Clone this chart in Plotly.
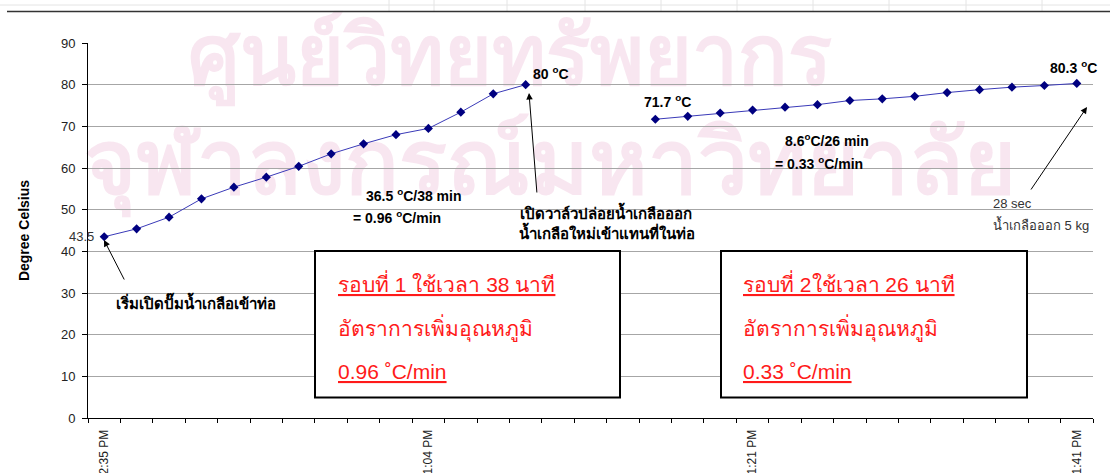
import plotly.graph_objects as go

# ---------------- data ----------------
sample_index = list(range(31))
temperature = [43.5, 45.4, 48.2, 52.6, 55.4, 57.8, 60.4, 63.4, 65.8, 68.0, 69.5, 73.4, 77.8, 80.0,
               None, None, None,
               71.7, 72.4, 73.2, 73.9, 74.6, 75.2, 76.2, 76.6, 77.2, 78.1, 78.8, 79.4, 79.8, 80.3]
time_tick_index = [0, 10, 20, 30]
time_tick_labels = ["12:35 PM", "1:04 PM", "1:21 PM", "1:41 PM"]
y_tick_values = [0, 10, 20, 30, 40, 50, 60, 70, 80, 90]

# ---------------- geometry helpers ----------------
W, H = 1110, 473
L, R, T, B = 88, 17, 43, 55
PW = W - L - R
PH = H - T - B


def px(x):
    return (x - L) / PW


def py(y):
    return (H - B - y) / PH


LAT = "Liberation Sans, Arial, sans-serif"

fig = go.Figure()
fig.add_trace(go.Scatter(
    x=sample_index, y=temperature, mode="lines+markers",
    line=dict(color="#3a3ab8", width=1),
    marker=dict(symbol="diamond", size=7, color="#000080"),
    connectgaps=False, showlegend=False, hoverinfo="skip"))

annotations = []


def txt(text, x, y, size=14, bold=True, color="black", family=LAT):
    t = f"<b>{text}</b>" if bold else text
    annotations.append(dict(text=t, x=px(x), y=py(y), xref="paper", yref="paper",
                            xanchor="left", yanchor="middle", showarrow=False,
                            font=dict(size=size, color=color, family=family)))


# data labels
annotations.append(dict(text="43.5", x=0, y=43.5, xref="x", yref="y", xanchor="right",
                        yanchor="middle", xshift=-8, showarrow=False,
                        font=dict(size=13, color="#333333", family=LAT)))

txt("80 <sup>o</sup>C", 531, 73)
txt("71.7 <sup>o</sup>C", 642, 101)
txt("80.3 <sup>o</sup>C", 1048, 67)
txt("36.5 <sup>o</sup>C/38 min", 364, 195)
txt("= 0.96 <sup>o</sup>C/min", 351, 217)
txt("8.6<sup>o</sup>C/26 min", 783, 140)
txt("= 0.33 <sup>o</sup>C/min", 773, 163)
txt("เปิดวาล์วปล่อยน้ำเกลือออก", 518, 212, size=15)
txt("น้ำเกลือใหม่เข้าแทนที่ในท่อ", 517, 232, size=15)
txt("เริ่มเปิดปั๊มน้ำเกลือเข้าท่อ", 114, 302, size=15)
txt("28 sec", 991, 203, size=13, bold=False, color="#333333")
txt("น้ำเกลือออก 5 kg", 991, 224, size=13, bold=False, color="#333333")

RED = "#ff1a1a"
for bx, r, mins, rate in [(336, "1 ", "38", "0.96"), (741, "2", "26", "0.33")]:
    txt(f"<u>รอบที่ {r}ใช้เวลา {mins} นาที</u>", bx, 283, size=21, bold=False, color=RED)
    txt("อัตราการเพิ่มอุณหภูมิ", bx, 328, size=21, bold=False, color=RED)
    txt(f"<u>{rate} ˚C/min</u>", bx, 371, size=21, bold=False, color=RED)

# arrows
for tipx, tipy, tailx, taily in [(104, 240, 125, 281), (529, 93, 537, 194), (1087, 107, 1030, 191)]:
    annotations.append(dict(text="", x=px(tipx), y=py(tipy), xref="paper", yref="paper",
                            ax=tailx - tipx, ay=taily - tipy, axref="pixel", ayref="pixel",
                            showarrow=True, arrowhead=2, arrowsize=1.3, arrowwidth=1,
                            arrowcolor="black", standoff=0, startstandoff=0))

shapes = []
# watermark (below grid)
WM = "rgba(205,80,150,0.14)"
shapes.append(dict(type="rect", xref="paper", yref="paper", x0=px(150), x1=px(870),
                   y0=py(98), y1=py(2), line=dict(width=0), layer="below",
                   label=dict(text="<b>ศูนย์วิทยทรัพยากร</b>", textposition="middle center",
                              font=dict(size=82, color=WM, family="sans-serif"))))
shapes.append(dict(type="rect", xref="paper", yref="paper", x0=px(60), x1=px(1040),
                   y0=py(214), y1=py(100), line=dict(width=0), layer="below",
                   label=dict(text="<b>จุฬาลงกรณ์มหาวิทยาลัย</b>", textposition="middle center",
                              font=dict(size=89, color=WM, family="sans-serif"))))
# spreadsheet lines on top
shapes.append(dict(type="line", xref="paper", yref="paper", x0=px(0), x1=px(1110),
                   y0=py(5), y1=py(5), line=dict(color="#e4e4e4", width=1)))
for vx in [389, 434, 507, 585, 661, 737, 813, 889, 966, 1042]:
    shapes.append(dict(type="line", xref="paper", yref="paper", x0=px(vx), x1=px(vx),
                       y0=py(11), y1=py(0), line=dict(color="#e4e4e4", width=1)))
shapes.append(dict(type="line", xref="paper", yref="paper", x0=px(7), x1=px(1110),
                   y0=py(11.5), y1=py(11.5), line=dict(color="#333333", width=1.5)))
# boxes
for x0, x1 in [(315, 620), (721, 1027)]:
    shapes.append(dict(type="rect", xref="paper", yref="paper", x0=px(x0), x1=px(x1),
                       y0=py(397.5), y1=py(251), line=dict(color="black", width=2),
                       fillcolor="white", layer="above"))

fig.update_layout(
    width=W, height=H, margin=dict(l=L, r=R, t=T, b=B, autoexpand=False),
    paper_bgcolor="white", plot_bgcolor="rgba(0,0,0,0)",
    annotations=annotations, shapes=shapes,
    xaxis=dict(range=[-0.5, 30.5], tickmode="array", tickvals=time_tick_index,
               ticktext=time_tick_labels, tickangle=-90, ticks="", showgrid=False,
               zeroline=False, showline=True, linecolor="black", linewidth=1,
               tickfont=dict(size=12, color="#222222", family=LAT), ticklabelstandoff=6,
               minor=dict(tickmode="array", tickvals=[i - 0.5 for i in range(32)],
                          ticks="outside", ticklen=4, tickcolor="black", tickwidth=1,
                          showgrid=False),
               automargin=False, fixedrange=True),
    yaxis=dict(range=[0, 90], tickmode="array", tickvals=y_tick_values, ticks="outside",
               ticklen=5, tickcolor="black", showgrid=True, gridcolor="#a6a6a6", gridwidth=1,
               zeroline=False, showline=True, linecolor="black", linewidth=1,
               tickfont=dict(size=13, color="#222222", family=LAT), ticklabelstandoff=4,
               title=dict(text="<b>Degree Celsius</b>", standoff=28,
                          font=dict(size=14, color="black", family=LAT)),
               automargin=False, fixedrange=True),
)

fig.write_html("out.html")
